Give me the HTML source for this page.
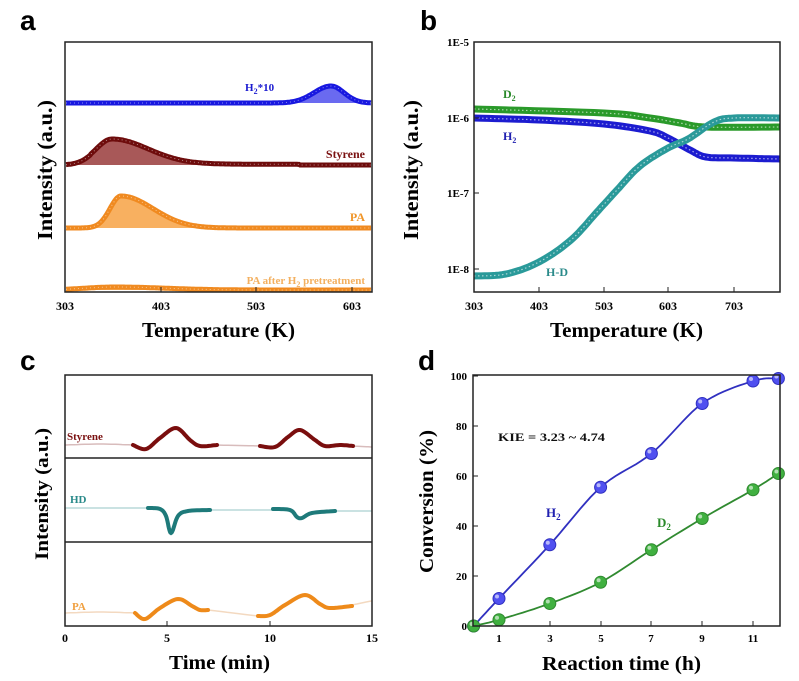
<!DOCTYPE html>
<html><head><meta charset="utf-8"><style>
body{margin:0;background:#fff;}
svg text{font-family:"Liberation Serif",serif;font-weight:bold;}
</style></head><body>
<svg id="s" width="799" height="676" xmlns="http://www.w3.org/2000/svg">
<rect width="799" height="676" fill="#fff"/>
<g style="font-family:'Liberation Sans',sans-serif" font-size="28" font-weight="bold">
<text x="20" y="30" style="font-family:'Liberation Sans',sans-serif">a</text>
<text x="420" y="30" style="font-family:'Liberation Sans',sans-serif">b</text>
<text x="20" y="370" style="font-family:'Liberation Sans',sans-serif">c</text>
<text x="418" y="370" style="font-family:'Liberation Sans',sans-serif">d</text></g>
<g id="g"></g>
<!-- panel a -->
<rect x="65" y="42" width="307" height="250" fill="none" stroke="#222" stroke-width="1.5"/>
<g font-size="12" text-anchor="middle">
<text x="65" y="310">303</text><text x="161" y="310">403</text><text x="256" y="310">503</text><text x="352" y="310">603</text></g>
<text x="142" y="337" font-size="21" textLength="153" lengthAdjust="spacingAndGlyphs">Temperature (K)</text>
<text transform="translate(52,240) rotate(-90)" font-size="21" textLength="140" lengthAdjust="spacingAndGlyphs">Intensity (a.u.)</text>
<text x="245" y="91" font-size="11" fill="#1a1ad0">H<tspan font-size="8" dy="3">2</tspan><tspan dy="-3">*10</tspan></text>
<text x="365" y="158" font-size="12" fill="#7a1010" text-anchor="end">Styrene</text>
<text x="365" y="221" font-size="12" fill="#f0962a" text-anchor="end">PA</text>
<text x="365" y="284" font-size="11" fill="#f3b060" text-anchor="end">PA after H<tspan font-size="8" dy="3">2</tspan><tspan dy="-3"> pretreatment</tspan></text>
<!-- panel b -->
<rect x="474" y="42" width="306" height="250" fill="none" stroke="#222" stroke-width="1.5"/>
<g font-size="12" text-anchor="middle">
<text x="474" y="310">303</text><text x="539" y="310">403</text><text x="604" y="310">503</text><text x="668" y="310">603</text><text x="734" y="310">703</text></g>
<g font-size="11" text-anchor="end">
<text x="469" y="46">1E-5</text><text x="469" y="122">1E-6</text><text x="469" y="197">1E-7</text><text x="469" y="273">1E-8</text></g>
<text x="550" y="337" font-size="21" textLength="153" lengthAdjust="spacingAndGlyphs">Temperature (K)</text>
<text transform="translate(418,240) rotate(-90)" font-size="21" textLength="140" lengthAdjust="spacingAndGlyphs">Intensity (a.u.)</text>
<text x="503" y="98" font-size="12" fill="#2a8a2a">D<tspan font-size="8" dy="3">2</tspan></text>
<text x="503" y="140" font-size="12" fill="#2020b0">H<tspan font-size="8" dy="3">2</tspan></text>
<text x="546" y="276" font-size="12" fill="#2a8a8a">H-D</text>
<!-- panel c -->
<rect x="65" y="375" width="307" height="251" fill="none" stroke="#222" stroke-width="1.5"/>
<line x1="65" y1="458" x2="372" y2="458" stroke="#222" stroke-width="1.5"/>
<line x1="65" y1="542" x2="372" y2="542" stroke="#222" stroke-width="1.5"/>
<g font-size="12" text-anchor="middle">
<text x="65" y="642">0</text><text x="167" y="642">5</text><text x="270" y="642">10</text><text x="372" y="642">15</text></g>
<text x="169" y="669" font-size="20" textLength="101" lengthAdjust="spacingAndGlyphs">Time (min)</text>
<text transform="translate(48,560) rotate(-90)" font-size="19" textLength="132" lengthAdjust="spacingAndGlyphs">Intensity (a.u.)</text>
<text x="67" y="440" font-size="11" fill="#7a1010">Styrene</text>
<text x="70" y="503" font-size="11" fill="#2a8a8a">HD</text>
<text x="72" y="610" font-size="11" fill="#f0a040">PA</text>
<!-- panel d -->
<rect x="473" y="375" width="307" height="251" fill="none" stroke="#222" stroke-width="1.5"/>
<g font-size="11" text-anchor="end">
<text x="467" y="380">100</text><text x="467" y="430">80</text><text x="467" y="480">60</text><text x="467" y="530">40</text><text x="467" y="580">20</text><text x="467" y="630">0</text></g>
<g font-size="11" text-anchor="middle">
<text x="499" y="642">1</text><text x="550" y="642">3</text><text x="601" y="642">5</text><text x="651" y="642">7</text><text x="702" y="642">9</text><text x="753" y="642">11</text></g>
<text x="542" y="670" font-size="20" textLength="159" lengthAdjust="spacingAndGlyphs">Reaction time (h)</text>
<text transform="translate(433,573) rotate(-90)" font-size="20" textLength="143" lengthAdjust="spacingAndGlyphs">Conversion (%)</text>
<text x="498" y="441" font-size="12" fill="#111" textLength="107" lengthAdjust="spacingAndGlyphs">KIE = 3.23 ~ 4.74</text>
<text x="546" y="517" font-size="13" fill="#2020b0">H<tspan font-size="9" dy="3">2</tspan></text>
<text x="657" y="527" font-size="13" fill="#2a8a2a">D<tspan font-size="9" dy="3">2</tspan></text>
</svg>
<script>
var g=document.getElementById('g'),NS='http://www.w3.org/2000/svg';
function el(t,a){var e=document.createElementNS(NS,t);for(var k in a)e.setAttribute(k,a[k]);g.appendChild(e);return e;}
function pts(f,x0,x1){var p=[];for(var x=x0;x<=x1;x+=1)p.push([x,f(x)]);return p;}
function d(p){return 'M'+p.map(function(q){return q[0].toFixed(1)+','+q[1].toFixed(1)}).join('L');}
function gs(x,m,s){return Math.exp(-(x-m)*(x-m)/(2*s*s));}
function asym(x,m,s1,s2){return gs(x,m,x<m?s1:s2);}
function peak(b,h,f,fill,stroke,x0,x1){
 var p=pts(function(x){return b-h*f(x)},x0,x1);
 el('path',{d:d(p)+'L'+x1+','+b+'L'+x0+','+b+'Z',fill:fill,stroke:'none'});
 el('path',{d:d(p),fill:'none',stroke:stroke,'stroke-width':5});
 el('path',{d:d(p),fill:'none',stroke:'#fff','stroke-width':1,'stroke-dasharray':'1 3',opacity:0.5});
}
peak(103,17,function(x){return asym(x,331,17,13)},'#6a6af0','#1818e0',66,371);
peak(165,25,function(x){return asym(x,112,16,36)+0.04*(x<300&&x>90?1:0)*asym(x,112,20,200)},'#a85858','#6e0c0c',66,371);
peak(228,32,function(x){return asym(x,121,11,32)},'#f8b060','#f08a20',66,371);
peak(290,3,function(x){return asym(x,115,30,50)},'#f8b060','#f08a20',66,371);
function poly(p,c){
 el('path',{d:'M'+p.map(function(q){return q.join(',')}).join('L'),fill:'none',stroke:c,'stroke-width':7,'stroke-linejoin':'round'});
 el('path',{d:'M'+p.map(function(q){return q.join(',')}).join('L'),fill:'none',stroke:'#fff','stroke-width':1.2,'stroke-dasharray':'1.5 2.5',opacity:0.6});
}
function smooth(p){var o=[];for(var i=0;i<p.length-1;i++){for(var t=0;t<1;t+=0.1){var a=p[Math.max(i-1,0)],b=p[i],c=p[i+1],e=p[Math.min(i+2,p.length-1)];var t2=t*t,t3=t2*t;
 o.push([0,1].map(function(k){return 0.5*(2*b[k]+(-a[k]+c[k])*t+(2*a[k]-5*b[k]+4*c[k]-e[k])*t2+(-a[k]+3*b[k]-3*c[k]+e[k])*t3)}));}}o.push(p[p.length-1]);return o.map(function(q){return [(+q[0]).toFixed(1),(+q[1]).toFixed(1)]});}
poly(smooth([[474,109],[604,113],[650,118],[680,123],[706,127],[780,127]]),'#2a9a2a');
poly(smooth([[474,118],[539,120],[604,124],[650,131],[668,138],[690,150],[706,157],[734,158],[780,159]]),'#1c1cd0');
poly(smooth([[474,276],[506,274],[539,262],[571,240],[597,212],[617,190],[640,166],[668,148],[688,139],[714,122],[734,118],[780,118]]),'#2a9a9a');
function cl(p,c,w,o){el('path',{d:'M'+smooth(p).map(function(q){return q.join(',')}).join('L'),fill:'none',stroke:c,'stroke-width':w,'stroke-linecap':'round',opacity:o});}
cl([[66,445],[100,444],[133,445]],'#c8a0a0',1.5,0.7);cl([[217,445],[260,446]],'#c8a0a0',1.5,0.7);cl([[353,446],[371,447]],'#c8a0a0',1.5,0.7);
cl([[133,445],[146,449],[160,438],[176,428],[190,440],[200,446],[217,445]],'#7a0e0e',4,1);
cl([[260,446],[275,447],[288,437],[300,430],[315,440],[325,446],[340,445],[353,446]],'#7a0e0e',4,1);
cl([[66,508],[148,508]],'#a8d0d0',1.5,0.8);cl([[210,510],[273,510]],'#a8d0d0',1.5,0.8);cl([[335,511],[371,511]],'#a8d0d0',1.5,0.8);
cl([[148,508],[160,509],[166,516],[171,533],[178,516],[188,511],[210,510]],'#1e7a7a',4,1);
cl([[273,509],[290,510],[297,517],[302,518],[312,513],[335,511]],'#1e7a7a',4,1);
cl([[66,613],[100,612],[135,613]],'#f0d0b0',1.5,0.8);cl([[208,610],[258,616]],'#f0d0b0',1.5,0.8);cl([[352,605],[371,601]],'#f0d0b0',1.5,0.8);
cl([[135,613],[145,619],[160,608],[178,599],[192,606],[200,610],[208,610]],'#ee8a1a',4,1);
cl([[258,616],[270,615],[285,605],[305,595],[320,604],[330,608],[352,606]],'#ee8a1a',4,1);
[[65,161,256,352],[474,539,604,668,734]].forEach(function(a){a.forEach(function(x){el('line',{x1:x,y1:292,x2:x,y2:287,stroke:'#222'})})});
[65,167,270,372].forEach(function(x){el('line',{x1:x,y1:626,x2:x,y2:621,stroke:'#222'})});
[499,550,601,651,702,753].forEach(function(x){el('line',{x1:x,y1:626,x2:x,y2:621,stroke:'#222'})});
[376,426,476,526,576,626].forEach(function(y){el('line',{x1:473,y1:y,x2:478,y2:y,stroke:'#222'})});
[42,118,193,269].forEach(function(y){el('line',{x1:474,y1:y,x2:479,y2:y,stroke:'#222'})});
function X(h){return 473.6+h*25.4}function Y(v){return 626-v*2.5}
function dser(data,c,lc){var p=data.map(function(q){return [X(q[0]),Y(q[1])]});
 el('path',{d:'M'+smooth(p).map(function(q){return q.join(',')}).join('L'),fill:'none',stroke:lc,'stroke-width':1.8});
 p.forEach(function(q){el('circle',{cx:q[0],cy:q[1],r:6,fill:c,stroke:lc,'stroke-width':1});el('circle',{cx:q[0]-2,cy:q[1]-2,r:2,fill:'#fff',opacity:0.6});});}
dser([[0,0],[1,11],[3,32.5],[5,55.5],[7,69],[9,89],[11,98],[12,99]],'#5050f0','#3030c0');
dser([[0,0],[1,2.5],[3,9],[5,17.5],[7,30.5],[9,43],[11,54.5],[12,61]],'#40b040','#308a30');
</script>
</body></html>
